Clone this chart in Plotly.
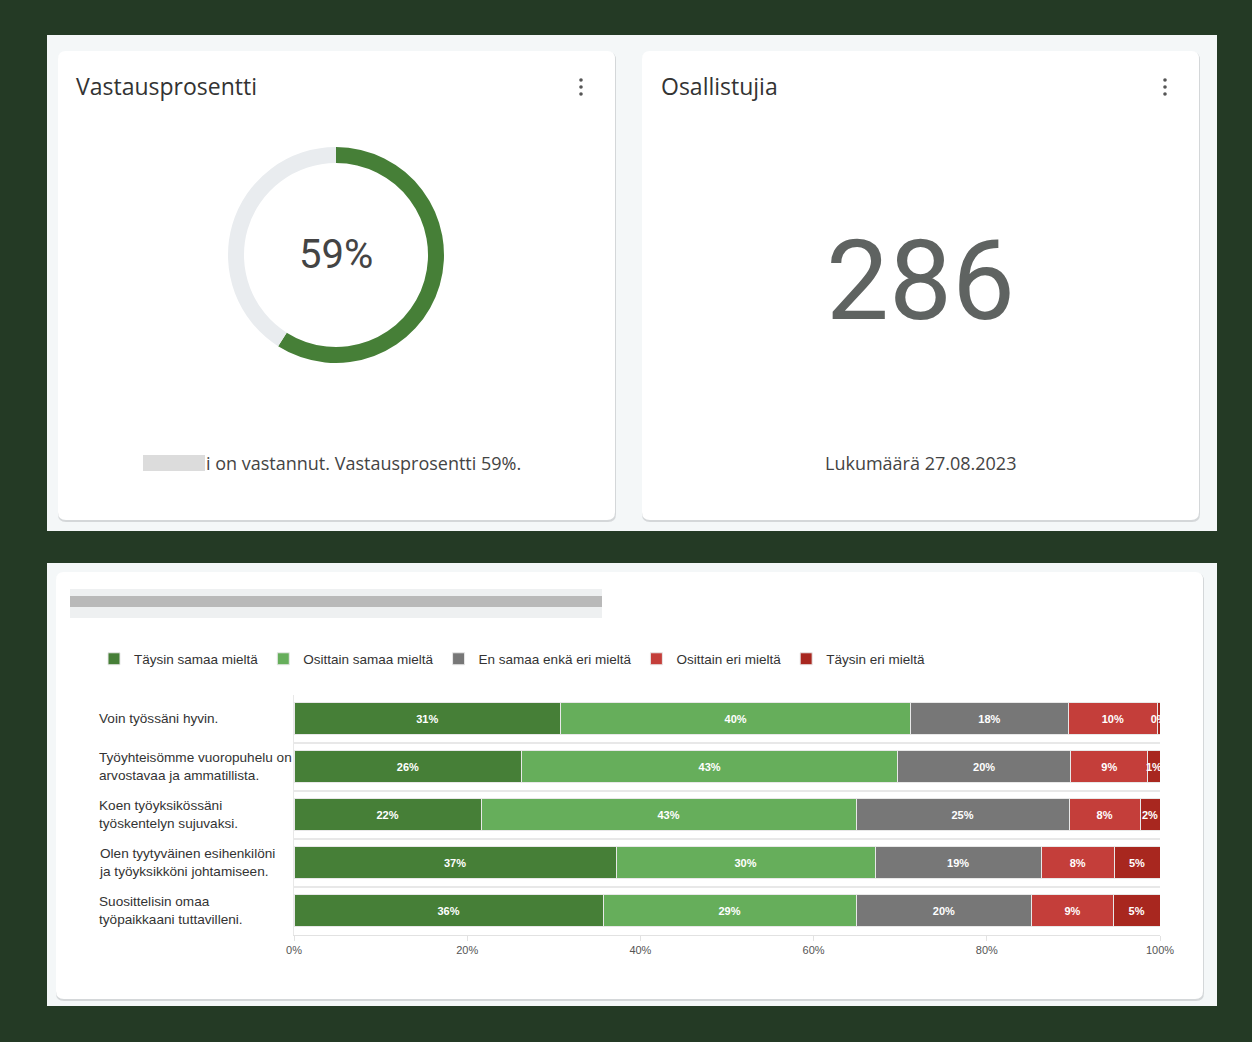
import plotly.graph_objects as go

W, H = 1252, 1042

# response rate card
response_rate = [59, 41]
response_labels = ["Vastanneet", "Ei vastanneet"]
participants = 286
count_date = "27.08.2023"

# survey bar chart
questions = [
    "Voin työssäni hyvin.",
    "Työyhteisömme vuoropuhelu on<br>arvostavaa ja ammatillista.",
    "Koen työyksikössäni<br>työskentelyn sujuvaksi.",
    "Olen tyytyväinen esihenkilöni<br>ja työyksikköni johtamiseen.",
    "Suosittelisin omaa<br>työpaikkaani tuttavilleni.",
]
answers = ["Täysin samaa mieltä", "Osittain samaa mieltä", "En samaa enkä eri mieltä",
           "Osittain eri mieltä", "Täysin eri mieltä"]
fully_agree = [30.8, 26.3, 21.6, 37.2, 35.7]
partly_agree = [40.4, 43.4, 43.3, 29.9, 29.2]
neutral = [18.2, 20.0, 24.6, 19.2, 20.3]
partly_disagree = [10.3, 8.9, 8.2, 8.4, 9.4]
fully_disagree = [0.3, 1.4, 2.3, 5.3, 5.4]
colors = ["#467f37", "#66ae5b", "#777777", "#c43e3a", "#a8271f"]


def px(x):
    return x / W


def py(y):
    return 1 - y / H


def rounded(x0, y0, x1, y1, r):
    # rounded rectangle path in paper coords, input in pixels
    rx, ry = r / W, r / H
    a, b, c, d = px(x0), py(y0), px(x1), py(y1)
    return (f"M {a+rx},{b} L {c-rx},{b} Q {c},{b} {c},{b-ry} L {c},{d+ry} Q {c},{d} {c-rx},{d} "
            f"L {a+rx},{d} Q {a},{d} {a},{d+ry} L {a},{b-ry} Q {a},{b} {a+rx},{b} Z")


shapes = []
# light panels
for y0, y1 in [(35, 531), (563, 1006)]:
    shapes.append(dict(type="rect", xref="paper", yref="paper", x0=px(47), x1=px(1217), y0=py(y1), y1=py(y0),
                       fillcolor="#f4f7f8", line_width=0, layer="below"))
# cards with shadow
for x0, y0, x1, y1 in [(58, 51, 615, 520), (642, 51, 1199, 520), (56, 572, 1203, 999)]:
    shapes.append(dict(type="path", xref="paper", yref="paper", path=rounded(x0, y0 + 1, x1 + 1, y1 + 2, 8),
                       fillcolor="#d4d7d9", line_width=0, layer="below"))
    shapes.append(dict(type="path", xref="paper", yref="paper", path=rounded(x0, y0, x1, y1, 8),
                       fillcolor="white", line_width=0, layer="below"))
# kebab menu dots
for cx in [581, 1165]:
    for cy in [80, 87, 94]:
        shapes.append(dict(type="circle", xref="paper", yref="paper", x0=px(cx - 1.8), x1=px(cx + 1.8),
                           y0=py(cy + 1.8), y1=py(cy - 1.8), fillcolor="#555", line_width=0, layer="below"))
# blurred (redacted) texts
shapes.append(dict(type="rect", xref="paper", yref="paper", x0=px(70), x1=px(602), y0=py(618), y1=py(589),
                   fillcolor="#eef0f1", line_width=0, layer="below"))
shapes.append(dict(type="rect", xref="paper", yref="paper", x0=px(70), x1=px(602), y0=py(607), y1=py(596),
                   fillcolor="#b9b9b9", line_width=0, layer="below"))
shapes.append(dict(type="rect", xref="paper", yref="paper", x0=px(143), x1=px(205), y0=py(471), y1=py(455),
                   fillcolor="#dcdcdc", line_width=0, layer="below"))

fig = go.Figure()

fig.add_trace(go.Pie(
    values=response_rate, labels=response_labels, hole=0.852, sort=False, direction="clockwise",
    marker=dict(colors=["#467f37", "#e9ecef"], line=dict(width=0)),
    textinfo="none", hoverinfo="label+value", showlegend=False,
    domain=dict(x=[px(228), px(444)], y=[py(363), py(147)]),
))

series = [fully_agree, partly_agree, neutral, partly_disagree, fully_disagree]
for name, vals, col in zip(answers, series, colors):
    fig.add_trace(go.Bar(
        y=questions, x=vals, name=name, orientation="h",
        marker=dict(color=col, line=dict(color="#e8e8e8", width=1)),
        texttemplate="%{x:.0f}%", textposition="inside", insidetextanchor="middle",
        constraintext="none", textangle=0,
        textfont=dict(color="white", size=11, family="Liberation Sans", weight="bold"),
    ))

annotations = [
    dict(text="Vastausprosentti", x=px(74), y=py(86), xanchor="left",
         font=dict(size=23, family="Open Sans", color="#333")),
    dict(text="Osallistujia", x=px(659), y=py(86), xanchor="left",
         font=dict(size=23, family="Open Sans", color="#333")),
    dict(text=f"{response_rate[0]}%", x=px(336), y=py(254), font=dict(size=40, family="Roboto", color="#444")),
    dict(text=f"{participants}", x=px(920), y=py(280), font=dict(size=112, family="Roboto", color="#5f6361")),
    dict(text=f"i on vastannut. Vastausprosentti {response_rate[0]}%.", x=px(204), y=py(463), xanchor="left",
         font=dict(size=18, family="Open Sans", color="#444")),
    dict(text=f"Lukumäärä {count_date}", x=px(920), y=py(463),
         font=dict(size=18, family="Open Sans", color="#444")),
]
for q in questions:
    annotations.append(dict(text=q, xref="paper", yref="y", x=px(97), y=q, xanchor="left", align="left",
                            font=dict(size=13.6, family="Liberation Sans", color="#333")))
for a in annotations:
    a.setdefault("xref", "paper")
    a.setdefault("yref", "paper")
    a.setdefault("xanchor", "center")
    a.setdefault("yanchor", "middle")
    a["showarrow"] = False

fig.update_layout(
    width=W, height=H, margin=dict(l=0, r=0, t=0, b=0, autoexpand=False), autosize=False,
    paper_bgcolor="#243a25", plot_bgcolor="white",
    barmode="stack", bargap=0.35,
    font=dict(family="Liberation Sans", color="#333"),
    shapes=shapes, annotations=annotations,
    legend=dict(orientation="h", x=px(512), xanchor="center", y=py(659), yanchor="middle",
                bgcolor="rgba(0,0,0,0)", font=dict(size=13.5, color="#333"), traceorder="normal",
                itemwidth=30, tracegroupgap=0),
    xaxis=dict(domain=[px(294), px(1160)], range=[0, 100], dtick=20, ticksuffix="%", showgrid=False,
               showline=True, linecolor="#e2e2e2", ticks="outside", ticklen=5, tickcolor="#e2e2e2",
               tickfont=dict(size=11, color="#555"), zeroline=False, fixedrange=True, automargin=False),
    yaxis=dict(domain=[py(934.5), py(694.5)], autorange="reversed", showticklabels=False,
               tickson="boundaries", showgrid=True, gridcolor="#e8e8e8", gridwidth=2,
               showline=True, linecolor="#e8e8e8", ticks="", automargin=False),
)

fig.write_html("out.html", config={"responsive": False, "displayModeBar": False},
               post_script="document.body.style.margin='0';document.body.style.overflow='hidden';")
